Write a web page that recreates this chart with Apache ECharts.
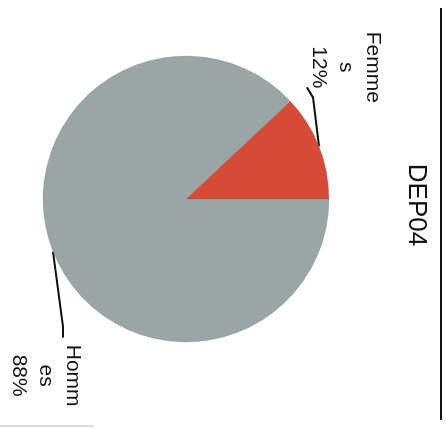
<!DOCTYPE html>
<html>
<head>
<meta charset="utf-8">
<script src="https://cdn.jsdelivr.net/npm/echarts@6/dist/echarts.min.js"></script>
<style>
  html, body { margin: 0; padding: 0; background: #ffffff; overflow: hidden; }
  body { width: 446px; height: 428px; position: relative; }
  /* the chart page is laid out upright, then turned a quarter clockwise */
  #chart {
    position: absolute; left: 0; top: 0;
    width: 428px; height: 446px;
    transform-origin: 0 0;
    transform: translateX(446px) rotate(90deg);
  }
</style>
</head>
<body>
<div id="chart"></div>
<script>
// Répartition par sexe — DEP04
var chartTitle = 'DEP04';
var categories = ['Femmes', 'Hommes'];
var values = [12, 88];
var sliceColors = ['#d64b38', '#9aa6a6'];
var labelWidths = [74, 64];

var chart = echarts.init(document.getElementById('chart'), null, { renderer: 'canvas' });

var labelFont = "'Liberation Sans', Arial, sans-serif";

var pieData = categories.map(function (name, i) {
  return {
    name: name,
    value: values[i],
    itemStyle: { color: sliceColors[i] },
    label: { width: labelWidths[i] }
  };
});

chart.setOption({
  animation: false,
  backgroundColor: '#ffffff',
  title: {
    text: chartTitle,
    left: 200,
    top: 12,
    textAlign: 'center',
    textStyle: {
      fontFamily: labelFont,
      fontSize: 26,
      fontWeight: 'normal',
      color: '#111111'
    }
  },
  graphic: [
    {
      type: 'line',
      shape: { x1: 8, y1: 5, x2: 420, y2: 5 },
      style: { stroke: '#111111', lineWidth: 2 },
      silent: true
    },
    {
      type: 'line',
      shape: { x1: 426, y1: 352, x2: 426, y2: 446 },
      style: { stroke: '#dddddd', lineWidth: 2 },
      silent: true
    }
  ],
  series: [{
    type: 'pie',
    center: [199, 260],
    radius: 143,
    startAngle: 90,
    clockwise: false,
    avoidLabelOverlap: false,
    data: pieData,
    itemStyle: { borderColor: 'rgba(90,100,100,0.35)', borderWidth: 0.6 },
    label: {
      show: true,
      position: 'outside',
      overflow: 'breakAll',
      align: 'center',
      fontFamily: labelFont,
      fontSize: 21,
      lineHeight: 27,
      color: '#111111',
      formatter: function (p) {
        return p.name + '\n' + Math.round(p.percent) + '%';
      }
    },
    labelLine: {
      show: true,
      length: 20,
      length2: 10,
      lineStyle: { color: '#111111', width: 2 }
    },
    labelLayout: function (p) {
      var e = p.labelLinePoints[0];
      if (p.dataIndex === 0) {
        var a = [e[0] - 49, e[1] + 6];
        var b = [a[0] - 10, a[1] + 6];
        return {
          x: b[0] - 20, y: b[1] + 2,
          align: 'center', verticalAlign: 'bottom',
          labelLinePoints: [e, a, b]
        };
      }
      var a2 = [e[0] + 75, e[1] - 10];
      var b2 = [a2[0] + 11, a2[1]];
      return {
        x: b2[0] + 38, y: b2[1] - 23,
        align: 'center', verticalAlign: 'top',
        labelLinePoints: [e, a2, b2]
      };
    }
  }]
});
</script>
</body>
</html>
